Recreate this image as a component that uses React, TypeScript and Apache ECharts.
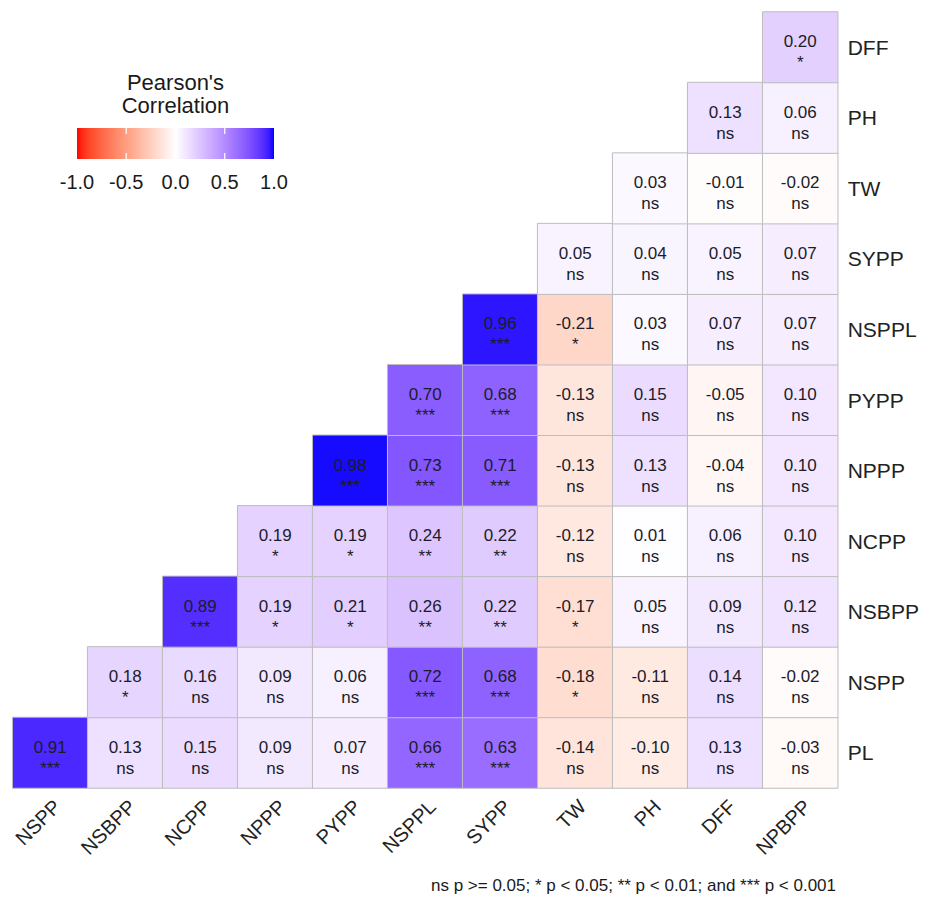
import React, { useEffect, useRef } from "react";
import * as echarts from "echarts";

// Variables along each axis
const xLabels = ["NSPP", "NSBPP", "NCPP", "NPPP", "PYPP", "NSPPL", "SYPP", "TW", "PH", "DFF", "NPBPP"];
const yLabels = ["PL", "NSPP", "NSBPP", "NCPP", "NPPP", "PYPP", "NSPPL", "SYPP", "TW", "PH", "DFF"];

// Lower-triangle correlation coefficients; row i starts at column i
const rPL = [0.91, 0.13, 0.15, 0.09, 0.07, 0.66, 0.63, -0.14, -0.1, 0.13, -0.03];
const rNSPP = [0.18, 0.16, 0.09, 0.06, 0.72, 0.68, -0.18, -0.11, 0.14, -0.02];
const rNSBPP = [0.89, 0.19, 0.21, 0.26, 0.22, -0.17, 0.05, 0.09, 0.12];
const rNCPP = [0.19, 0.19, 0.24, 0.22, -0.12, 0.01, 0.06, 0.1];
const rNPPP = [0.98, 0.73, 0.71, -0.13, 0.13, -0.04, 0.1];
const rPYPP = [0.7, 0.68, -0.13, 0.15, -0.05, 0.1];
const rNSPPL = [0.96, -0.21, 0.03, 0.07, 0.07];
const rSYPP = [0.05, 0.04, 0.05, 0.07];
const rTW = [0.03, -0.01, -0.02];
const rPH = [0.13, 0.06];
const rDFF = [0.2];

// Significance codes for the same cells
const sPL = ["***", "ns", "ns", "ns", "ns", "***", "***", "ns", "ns", "ns", "ns"];
const sNSPP = ["*", "ns", "ns", "ns", "***", "***", "*", "ns", "ns", "ns"];
const sNSBPP = ["***", "*", "*", "**", "**", "*", "ns", "ns", "ns"];
const sNCPP = ["*", "*", "**", "**", "ns", "ns", "ns", "ns"];
const sNPPP = ["***", "***", "***", "ns", "ns", "ns", "ns"];
const sPYPP = ["***", "***", "ns", "ns", "ns", "ns"];
const sNSPPL = ["***", "*", "ns", "ns", "ns"];
const sSYPP = ["ns", "ns", "ns", "ns"];
const sTW = ["ns", "ns", "ns"];
const sPH = ["ns", "ns"];
const sDFF = ["*"];

const rowValues = [rPL, rNSPP, rNSBPP, rNCPP, rNPPP, rPYPP, rNSPPL, rSYPP, rTW, rPH, rDFF];
const rowSig = [sPL, sNSPP, sNSBPP, sNCPP, sNPPP, sPYPP, sNSPPL, sSYPP, sTW, sPH, sDFF];

const legendTicks = [-1, -0.5, 0, 0.5, 1];
const legendTitleLines = ["Pearson's", "Correlation"];
const caption = "ns p >= 0.05; * p < 0.05; ** p < 0.01; and *** p < 0.001";

const FONT = "'Liberation Sans', Arial, Helvetica, sans-serif";

// --- Lab colour interpolation (red - white - blue) ---
type RGB = [number, number, number];
const toLin = (c: number) => {
  c /= 255;
  return c <= 0.04045 ? c / 12.92 : Math.pow((c + 0.055) / 1.055, 2.4);
};
const fromLin = (c: number) => {
  const v = c <= 0.0031308 ? 12.92 * c : 1.055 * Math.pow(c, 1 / 2.4) - 0.055;
  return Math.max(0, Math.min(255, Math.round(v * 255)));
};
const Xn = 0.95047, Yn = 1.0, Zn = 1.08883;
const fLab = (t: number) => (t > 0.008856 ? Math.cbrt(t) : 7.787 * t + 16 / 116);
const fInv = (t: number) => (t * t * t > 0.008856 ? t * t * t : (t - 16 / 116) / 7.787);
function rgbToLab([r8, g8, b8]: RGB): RGB {
  const r = toLin(r8), g = toLin(g8), b = toLin(b8);
  const X = 0.4124564 * r + 0.3575761 * g + 0.1804375 * b;
  const Y = 0.2126729 * r + 0.7151522 * g + 0.072175 * b;
  const Z = 0.0193339 * r + 0.119192 * g + 0.9503041 * b;
  const fx = fLab(X / Xn), fy = fLab(Y / Yn), fz = fLab(Z / Zn);
  return [116 * fy - 16, 500 * (fx - fy), 200 * (fy - fz)];
}
function labToHex([L, a, bb]: RGB): string {
  const fy = (L + 16) / 116;
  const fx = fy + a / 500;
  const fz = fy - bb / 200;
  const X = Xn * fInv(fx), Y = Yn * fInv(fy), Z = Zn * fInv(fz);
  const r = 3.2404542 * X - 1.5371385 * Y - 0.4985314 * Z;
  const g = -0.969266 * X + 1.8760108 * Y + 0.041556 * Z;
  const b = 0.0556434 * X - 0.2040259 * Y + 1.0572252 * Z;
  const h = (v: number) => fromLin(v).toString(16).padStart(2, "0");
  return "#" + h(r) + h(g) + h(b);
}
const LOW = rgbToLab([255, 0, 0]);
const MID = rgbToLab([255, 255, 255]);
const HIGH = rgbToLab([0, 0, 255]);
function colourAt(v: number): string {
  const to = v < 0 ? LOW : HIGH;
  const t = Math.min(1, Math.abs(v));
  return labToHex([
    MID[0] + (to[0] - MID[0]) * t,
    MID[1] + (to[1] - MID[1]) * t,
    MID[2] + (to[2] - MID[2]) * t,
  ]);
}
const STOPS = 40;
const paletteStops: string[] = Array.from({ length: STOPS + 1 }, (_, i) => colourAt(-1 + (2 * i) / STOPS));

export default function App() {
  const ref = useRef<HTMLDivElement>(null);

  useEffect(() => {
    if (!ref.current) return;
    const chart = echarts.init(ref.current, null, { renderer: "svg" });

    const data: any[] = [];
    rowValues.forEach((vals, yi) => {
      vals.forEach((v, k) => {
        data.push({ value: [yi + k, yi, v], sig: rowSig[yi][k] });
      });
    });

    // colour bar geometry for the legend
    const barX = 77, barY = 128, barW = 197, barH = 31;
    const posOf = (v: number) => barX + ((v + 1) / 2) * barW;

    const gradientStops = paletteStops.map((c, i) => ({ offset: i / STOPS, color: c }));

    const legendGraphics: any[] = [];
    legendTitleLines.forEach((line, i) => {
      legendGraphics.push({
        type: "text",
        style: {
          x: barX + barW / 2,
          y: 82 + i * 23,
          text: line,
          font: `22px ${FONT}`,
          fill: "#1a1a1a",
          textAlign: "center",
          textVerticalAlign: "middle",
        },
      });
    });
    legendGraphics.push({
      type: "rect",
      shape: { x: barX, y: barY, width: barW, height: barH },
      style: {
        fill: new echarts.graphic.LinearGradient(0, 0, 1, 0, gradientStops),
      },
    });
    legendTicks.forEach((t) => {
      const x = posOf(t);
      if (t > -1 && t < 1) {
        legendGraphics.push({
          type: "line",
          shape: { x1: x, y1: barY, x2: x, y2: barY + 6 },
          style: { stroke: "#ffffff", lineWidth: 1.2 },
        });
        legendGraphics.push({
          type: "line",
          shape: { x1: x, y1: barY + barH - 6, x2: x, y2: barY + barH },
          style: { stroke: "#ffffff", lineWidth: 1.2 },
        });
      }
      legendGraphics.push({
        type: "text",
        style: {
          x,
          y: 182,
          text: t.toFixed(1),
          font: `20px ${FONT}`,
          fill: "#1a1a1a",
          textAlign: "center",
          textVerticalAlign: "middle",
        },
      });
    });
    legendGraphics.push({
      type: "text",
      style: {
        x: 836,
        y: 885,
        text: caption,
        font: `17px ${FONT}`,
        fill: "#1a1a1a",
        textAlign: "right",
        textVerticalAlign: "middle",
      },
    });

    chart.setOption({
      animation: false,
      backgroundColor: "#ffffff",
      textStyle: { fontFamily: FONT },
      grid: { left: 12.7, right: 87.3, top: 12, bottom: 109, containLabel: false },
      xAxis: {
        type: "category",
        data: xLabels,
        axisLine: { show: false },
        axisTick: { show: false },
        splitLine: { show: false },
        axisLabel: {
          rotate: 45,
          fontSize: 20,
          color: "#222222",
          margin: 8,
          interval: 0,
          verticalAlign: "top",
          fontFamily: FONT,
        },
      },
      yAxis: {
        type: "category",
        data: yLabels,
        position: "right",
        axisLine: { show: false },
        axisTick: { show: false },
        splitLine: { show: false },
        axisLabel: {
          fontSize: 21,
          color: "#222222",
          margin: 10,
          interval: 0,
          fontFamily: FONT,
        },
      },
      visualMap: {
        show: false,
        type: "continuous",
        min: -1,
        max: 1,
        dimension: 2,
        inRange: { color: paletteStops },
      },
      series: [
        {
          type: "heatmap",
          data,
          itemStyle: { borderColor: "#bdbdbd", borderWidth: 1 },
          emphasis: { disabled: true },
          label: {
            show: true,
            fontSize: 17,
            lineHeight: 21,
            color: "#1c1c2a",
            fontFamily: FONT,
            offset: [0, 5],
            formatter: (p: any) => `${(p.value[2] as number).toFixed(2)}\n${p.data.sig}`,
          },
        },
      ],
      graphic: legendGraphics,
    });

    return () => chart.dispose();
  }, []);

  return (
    <div
      ref={ref}
      style={{ position: "absolute", left: 0, top: 0, width: 925, height: 897 }}
    />
  );
}
